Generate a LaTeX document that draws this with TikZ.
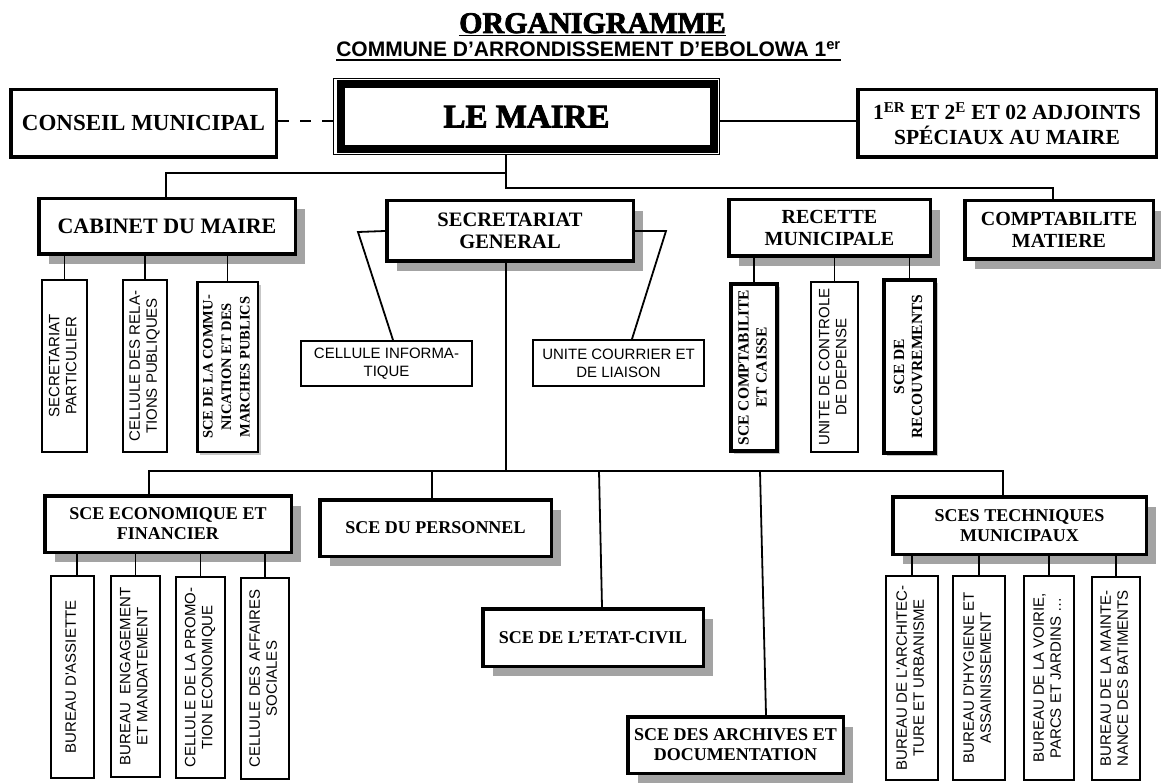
\documentclass[tikz,border=0pt]{standalone}
\usepackage{fontspec}
\usepackage{graphicx}
\setmainfont{Liberation Serif}
\newfontfamily\sansf{Liberation Sans}
\newfontfamily\heavyf{Liberation Serif}[BoldFeatures={FakeBold=2.5}]
\usetikzlibrary{shadows}
\newcommand\fs[2]{\fontsize{#1}{#2}\selectfont}
\newcommand\vtxt[1]{\rotatebox{90}{\begin{tabular}{@{}c@{}}#1\end{tabular}}}
\begin{document}
\begin{tikzpicture}[x=1pt,y=-1pt,
  conn/.style={line width=1.8pt},
  hshadow/.style={drop shadow={shadow xshift=10pt, shadow yshift=-10pt, fill=black!36, opacity=1}},
  sshadow/.style={drop shadow={shadow xshift=3pt, shadow yshift=-3pt, fill=black!22, opacity=1}},
  bigbox/.style={draw, line width=3.5pt, fill=white, inner sep=0pt, align=center, font=\bfseries\fs{22}{25}},
  midbox/.style={bigbox, hshadow, font=\bfseries\fs{20}{22}},
  lowbox/.style={bigbox, hshadow, font=\bfseries\fs{18}{20}},
  vbox/.style={draw, line width=2pt, fill=white, inner sep=0pt, font=\sansf\fs{15}{17}},
  vboxb/.style={draw, line width=4pt, fill=white, inner sep=0pt, sshadow, font=\bfseries\fs{15.5}{18}},
  hbox/.style={draw, line width=2pt, fill=white, inner sep=0pt, align=center, font=\sansf\fs{15}{18}},
]
\path[use as bounding box, fill=white] (0,0) rectangle (1161,783);

% title
\node[anchor=base, inner sep=0pt, font=\heavyf\bfseries\fs{30}{30}] (title) at (592.5,33) {ORGANIGRAMME};
\draw[line width=1.8pt] ([yshift=-2.5pt]title.base west) -- ([yshift=-2.5pt]title.base east);
\node[anchor=base, inner sep=0pt, font=\sansf\bfseries\fs{21}{21}] (sub) at (588.5,57) {COMMUNE D’ARRONDISSEMENT D’EBOLOWA 1\textsuperscript{er}};
\draw[line width=1.6pt] ([yshift=-3pt]sub.base west) -- ([yshift=-3pt]sub.base east);

% top row
\node[bigbox, font=\bfseries\fs{23}{25}, minimum width=265.5pt, minimum height=67.5pt] (conseil) at (143.5,123.5) {CONSEIL MUNICIPAL};
\node[draw, line width=1pt, fill=white, inner sep=0pt, minimum width=386pt, minimum height=76pt, font=\heavyf\bfseries\fs{33}{33}] (maire) at (526.5,116.5) {\raisebox{-2.5pt}{LE MAIRE}};
\draw[line width=8pt] ([xshift=8pt,yshift=-6pt]maire.north west) rectangle ([xshift=-6pt,yshift=6pt]maire.south east);
\node[bigbox, font=\bfseries\fs{21.5}{25}, minimum width=298.5pt, minimum height=67.5pt] (adj) at (1007,123.5) {1\textsuperscript{ER} ET 2\textsuperscript{E} ET 02 ADJOINTS\\SPÉCIAUX AU MAIRE};

% second row
\node[bigbox, hshadow, minimum width=256.5pt, minimum height=55.5pt] (cab) at (167,226.5) {CABINET DU MAIRE};
\node[midbox, font=\bfseries\fs{20.5}{22}, minimum width=246.5pt, minimum height=60.5pt] (sg) at (510,231) {SECRETARIAT\\GENERAL};
\node[midbox, minimum width=201.5pt, minimum height=56.5pt] (rec) at (829.5,228) {RECETTE\\MUNICIPALE};
\node[midbox, shadow xshift=8pt, minimum width=188.5pt, minimum height=58.5pt] (compta) at (1059,230) {COMPTABILITE\\MATIERE};

% cabinet children
\node[vbox, minimum width=45pt, minimum height=172pt] (sp) at (64.5,366) {\vtxt{SECRETARIAT\\PARTICULIER}};
\node[vbox, minimum width=44pt, minimum height=172pt] (crp) at (145,366) {\vtxt{CELLULE DES RELA-\\TIONS PUBLIQUES}};
\node[vbox, sshadow, line width=2.5pt, font=\bfseries\fs{14.5}{18.5}, minimum width=60.5pt, minimum height=169.5pt] (scom) at (227.5,367) {\vtxt{SCE DE LA COMMU-\\NICATION ET DES\\MARCHES PUBLICS}};

% secretariat children
\node[hbox, minimum width=171pt, minimum height=45pt] (ci) at (386.5,363.5) {CELLULE INFORMA-\\TIQUE};
\node[hbox, minimum width=171pt, minimum height=46pt] (uc) at (618.5,363) {UNITE COURRIER ET\\DE LIAISON};

% recette children
\node[vboxb, minimum width=46pt, minimum height=167pt] (rc1) at (754,367.5) {\vtxt{SCE COMPTABILITE\\ET CAISSE}};
\node[vbox, minimum width=47pt, minimum height=170pt] (rc2) at (834.5,367) {\vtxt{UNITE DE CONTROLE\\DE DEPENSE}};
\node[vboxb, minimum width=51pt, minimum height=173pt] (rc3) at (909.5,366.5) {\vtxt{SCE DE\\RECOUVREMENTS}};

% lower services
\node[lowbox, minimum width=246.5pt, minimum height=56.5pt] (eco) at (168,524) {SCE ECONOMIQUE ET\\FINANCIER};
\node[lowbox, minimum width=231.5pt, minimum height=56.5pt] (pers) at (435.5,528) {SCE DU PERSONNEL};
\node[lowbox, minimum width=220.5pt, minimum height=57.5pt] (etat) at (593,637.5) {SCE DE L’ETAT-CIVIL};
\node[lowbox, minimum width=215.5pt, minimum height=56.5pt] (arch) at (735.5,745) {SCE DES ARCHIVES ET\\DOCUMENTATION};
\node[lowbox, minimum width=253.5pt, minimum height=57.5pt] (tech) at (1019.5,525.5) {SCES TECHNIQUES\\MUNICIPAUX};

% eco children
\node[vbox, minimum width=43pt, minimum height=202pt] (e1) at (72.5,677) {\vtxt{BUREAU D'ASSIETTE}};
\node[vbox, minimum width=49pt, minimum height=201pt] (e2) at (135.5,676.5) {\vtxt{BUREAU \ ENGAGEMENT\\ET MANDATEMENT}};
\node[vbox, minimum width=49pt, minimum height=201pt] (e3) at (200.5,677.5) {\vtxt{CELLULE DE LA PROMO-\\TION ECONOMIQUE}};
\node[vbox, minimum width=48pt, minimum height=201pt] (e4) at (265,678.5) {\vtxt{CELLULE DES AFFAIRES\\SOCIALES}};

% tech children
\node[vbox, minimum width=52pt, minimum height=204pt] (t1) at (912,678) {\vtxt{BUREAU DE L'ARCHITEC-\\TURE ET URBANISME}};
\node[vbox, minimum width=52pt, minimum height=204pt] (t2) at (979,678) {\vtxt{BUREAU D'HYGIENE ET\\ASSAINISSEMENT}};
\node[vbox, minimum width=50pt, minimum height=204pt] (t3) at (1049,678) {\vtxt{BUREAU DE LA VOIRIE,\\PARCS ET JARDINS …}};
\node[vbox, minimum width=48pt, minimum height=203pt] (t4) at (1116,678.5) {\vtxt{BUREAU DE LA MAINTE-\\NANCE DES BATIMENTS}};

% connectors top
\draw[conn, dash pattern=on 11pt off 11pt] ([yshift=2.5pt]conseil.east) -- ([yshift=2.5pt]conseil.east -| maire.west);
\draw[conn] ([yshift=-4.5pt]maire.east) -- ([yshift=-4.5pt]maire.east -| adj.west);
\coordinate (bj) at (506,173);
\coordinate (bl) at (166,173);
\coordinate (br) at (1053,188);
\draw[conn] (maire.south -| bj) -- (bj |- br) -- (br) -- (br |- compta.north);
\draw[conn] (bj) -- (bl) -- (bl |- cab.north);
\foreach \n in {sp,crp,scom} \draw[conn] (\n.north |- cab.south) -- (\n.north);
\foreach \n in {rc1,rc2,rc3} \draw[conn] (\n.north |- rec.south) -- (\n.north);
\coordinate (ciK) at (358,232);
\coordinate (ucK) at (666,231);
\draw[conn] (sg.west) -- (ciK) -- ([xshift=6.5pt]ci.north);
\draw[conn] (sg.east) -- (ucK) -- ([xshift=13.5pt]uc.north);

% connectors lower
\coordinate (lj) at (506,471);
\coordinate (la) at (149,471);
\coordinate (lz) at (1003,471);
\coordinate (lp) at (432,471);
\coordinate (le) at (599,471);
\coordinate (lr) at (760,471);
\draw[conn] (sg.south -| lj) -- (lj);
\draw[conn] (la |- eco.north) -- (la) -- (lz) -- (lz |- tech.north);
\draw[conn] (lp) -- (lp |- pers.north);
\draw[conn] (le) -- ([xshift=9pt]etat.north);
\draw[conn] (lr) -- ([xshift=30.5pt]arch.north);
\draw[conn] ([xshift=4.5pt]e1.north |- eco.south) -- ([xshift=4.5pt]e1.north);
\foreach \n in {e2,e3,e4} \draw[conn] (\n.north |- eco.south) -- (\n.north);
\foreach \n in {t1,t2,t3,t4} \draw[conn] (\n.north |- tech.south) -- (\n.north);
\end{tikzpicture}
\end{document}
